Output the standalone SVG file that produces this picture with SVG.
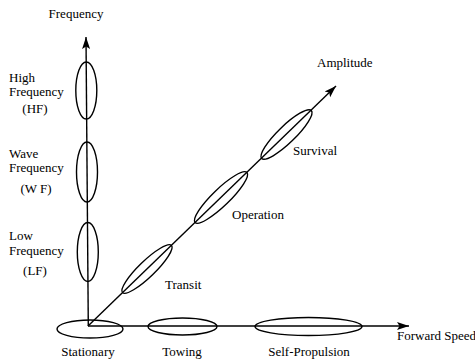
<svg xmlns="http://www.w3.org/2000/svg" width="475" height="363" viewBox="0 0 475 363">
<style>
.ax{stroke:#000;stroke-width:1.4;fill:none}
.el{stroke:#000;stroke-width:1.4;fill:none}
.c{text-anchor:middle}
</style>
<defs>
<marker id="arr" markerUnits="userSpaceOnUse" markerWidth="14" markerHeight="10" refX="12" refY="5" orient="auto">
<path d="M0,1 L12,5 L0,9 L2.5,5 Z" fill="#000"/>
</marker>
</defs>
<rect width="475" height="363" fill="#fff"/>
<g font-family="Liberation Serif, DejaVu Serif, serif" font-size="13" fill="#000">
<g id="connectors">
<line class="ax" x1="88.3" y1="326" x2="86" y2="37" marker-end="url(#arr)"/>
<line class="ax" x1="88" y1="326" x2="409" y2="326" marker-end="url(#arr)"/>
<line class="ax" x1="88" y1="326" x2="336" y2="86" marker-end="url(#arr)"/>
</g>
<g id="axis-labels">
<text x="76" y="18" class="c">Frequency</text>
<text x="317" y="67">Amplitude</text>
<text x="397" y="340">Forward Speed</text>
</g>
<g id="hf">
<ellipse class="el" cx="86.3" cy="90.5" rx="10.5" ry="28.5"/>
<text x="9" y="82">High</text>
<text x="9" y="96">Frequency</text>
<text x="35" y="113" class="c">(HF)</text>
</g>
<g id="wf">
<ellipse class="el" cx="87" cy="172" rx="10.5" ry="30"/>
<text x="9" y="158">Wave</text>
<text x="9" y="172">Frequency</text>
<text x="36" y="193" class="c">(W F)</text>
</g>
<g id="lf">
<ellipse class="el" cx="87.8" cy="252" rx="10.5" ry="29.5"/>
<text x="9" y="240">Low</text>
<text x="9" y="255">Frequency</text>
<text x="35" y="275" class="c">(LF)</text>
</g>
<g id="stationary">
<ellipse class="el" cx="90" cy="329" rx="33" ry="9"/>
<text x="88" y="356" class="c">Stationary</text>
</g>
<g id="towing">
<ellipse class="el" cx="182.5" cy="326.5" rx="34.5" ry="8.5"/>
<text x="182" y="356" class="c">Towing</text>
</g>
<g id="self-propulsion">
<ellipse class="el" cx="308.5" cy="326.5" rx="53.5" ry="9"/>
<text x="309" y="356" class="c">Self-Propulsion</text>
</g>
<g id="transit">
<ellipse class="el" cx="147" cy="269" rx="34" ry="8" transform="rotate(-44 147 269)"/>
<text x="165" y="289">Transit</text>
</g>
<g id="operation">
<ellipse class="el" cx="221" cy="197.5" rx="36" ry="8.5" transform="rotate(-44 221 197.5)"/>
<text x="232" y="219">Operation</text>
</g>
<g id="survival">
<ellipse class="el" cx="286.5" cy="134.5" rx="34.5" ry="8.5" transform="rotate(-44 286.5 134.5)"/>
<text x="293" y="155">Survival</text>
</g>
</g>
</svg>
